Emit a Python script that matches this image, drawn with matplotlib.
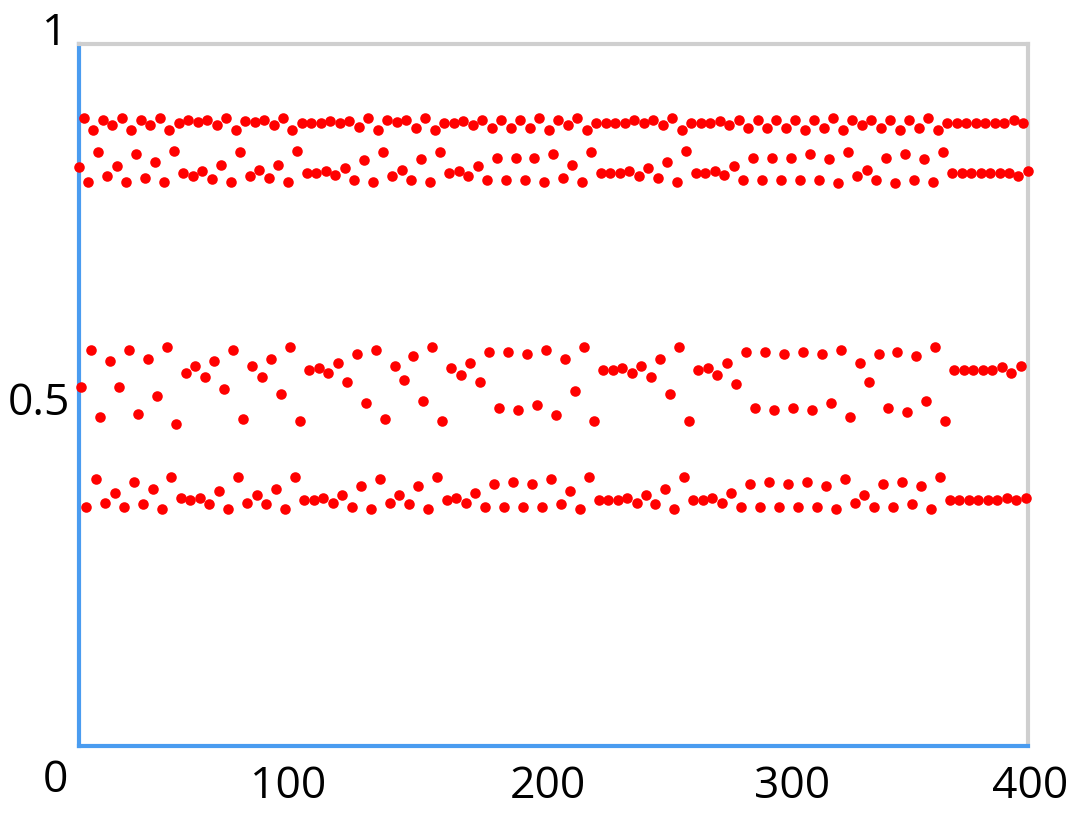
import numpy as np
import matplotlib
matplotlib.use("Agg")
import matplotlib.pyplot as plt
from matplotlib.transforms import offset_copy

# iterates, one list per band (every 4th step lands in the same band)
# band near 0.82 -> steps 0, 4, 8, ... 400
band_upper = [0.825, 0.804, 0.846, 0.812, 0.826, 0.804, 0.843, 0.809, 0.832, 0.804,
              0.848, 0.816, 0.812, 0.819, 0.808, 0.828, 0.804, 0.846, 0.812, 0.821,
              0.809, 0.828, 0.804, 0.848, 0.816, 0.816, 0.819, 0.813, 0.823, 0.806,
              0.835, 0.804, 0.846, 0.812,
              0.821, 0.806, 0.836, 0.804, 0.846, 0.816, 0.819, 0.812, 0.826, 0.806,
              0.838, 0.806, 0.838, 0.806, 0.838, 0.804, 0.843, 0.809, 0.828, 0.804,
              0.846, 0.816, 0.816, 0.816, 0.819, 0.812, 0.823, 0.809, 0.832, 0.804,
              0.848, 0.816, 0.816, 0.819, 0.813,
              0.826, 0.806, 0.838, 0.806, 0.838, 0.806, 0.838, 0.806, 0.843, 0.806,
              0.836, 0.802, 0.846, 0.812, 0.821, 0.806, 0.838, 0.802, 0.843, 0.806,
              0.836, 0.804, 0.846, 0.816, 0.816, 0.816, 0.816, 0.816, 0.816, 0.816,
              0.812, 0.819]

# band near 0.5 -> steps 1, 5, 9, ... 397
band_mid = [0.512, 0.564, 0.469, 0.548, 0.512, 0.564, 0.473, 0.551, 0.499, 0.568,
            0.459, 0.532, 0.542, 0.525, 0.548, 0.508, 0.564, 0.466, 0.542, 0.525,
            0.551, 0.502, 0.568, 0.463, 0.535, 0.538, 0.532, 0.545, 0.518, 0.558,
            0.489, 0.564, 0.466, 0.542,
            0.522, 0.555, 0.492, 0.568, 0.463, 0.538, 0.529, 0.545, 0.518, 0.561,
            0.482, 0.561, 0.479, 0.558, 0.486, 0.564, 0.472, 0.551, 0.505, 0.568,
            0.463, 0.535, 0.535, 0.538, 0.532, 0.542, 0.525, 0.551, 0.502, 0.568,
            0.463, 0.535, 0.538, 0.529,
            0.545, 0.516, 0.561, 0.482, 0.561, 0.479, 0.558, 0.482, 0.561, 0.479,
            0.558, 0.489, 0.564, 0.469, 0.545, 0.518, 0.558, 0.482, 0.561, 0.476,
            0.555, 0.492, 0.568, 0.463, 0.535, 0.535, 0.535, 0.535, 0.535, 0.540,
            0.531, 0.542]

# band near 0.89 -> steps 2, 6, 10, ... 398
band_top = [0.895, 0.878, 0.892, 0.885, 0.895, 0.878, 0.892, 0.885, 0.895, 0.878,
            0.888, 0.892, 0.889, 0.892, 0.885, 0.895, 0.878, 0.891, 0.889, 0.892,
            0.885, 0.895, 0.878, 0.888, 0.888, 0.888, 0.891, 0.888, 0.891, 0.882,
            0.895, 0.878, 0.892, 0.889,
            0.892, 0.881, 0.895, 0.878, 0.888, 0.888, 0.891, 0.885, 0.892, 0.881,
            0.892, 0.881, 0.892, 0.881, 0.895, 0.878, 0.892, 0.885, 0.895, 0.878,
            0.888, 0.888, 0.888, 0.888, 0.892, 0.888, 0.892, 0.885, 0.895, 0.878,
            0.888, 0.888, 0.888, 0.891,
            0.885, 0.892, 0.881, 0.892, 0.881, 0.892, 0.881, 0.892, 0.878, 0.892,
            0.881, 0.895, 0.878, 0.892, 0.885, 0.892, 0.881, 0.892, 0.878, 0.892,
            0.881, 0.895, 0.878, 0.888, 0.888, 0.888, 0.888, 0.888, 0.888, 0.888,
            0.892, 0.888]

# band near 0.36 -> steps 3, 7, 11, ... 399
band_low = [0.341, 0.380, 0.346, 0.360, 0.340, 0.376, 0.344, 0.366, 0.337, 0.383,
            0.353, 0.351, 0.353, 0.344, 0.363, 0.337, 0.383, 0.346, 0.357, 0.344,
            0.366, 0.337, 0.383, 0.351, 0.351, 0.353, 0.346, 0.357, 0.340, 0.370,
            0.337, 0.380, 0.346, 0.357,
            0.344, 0.370, 0.337, 0.383, 0.351, 0.353, 0.346, 0.360, 0.340, 0.373,
            0.340, 0.376, 0.340, 0.373, 0.340, 0.380, 0.344, 0.363, 0.337, 0.383,
            0.351, 0.351, 0.351, 0.353, 0.346, 0.357, 0.344, 0.366, 0.337, 0.383,
            0.351, 0.351, 0.353, 0.346,
            0.360, 0.340, 0.373, 0.340, 0.376, 0.340, 0.373, 0.340, 0.376, 0.340,
            0.370, 0.337, 0.380, 0.346, 0.357, 0.340, 0.373, 0.340, 0.376, 0.344,
            0.370, 0.337, 0.383, 0.351, 0.351, 0.351, 0.351, 0.351, 0.351, 0.353,
            0.351, 0.353]

x_ticks = [100, 200, 300, 400]
x_tick_labels = ["100", "200", "300", "400"]
y_ticks = [0.5, 1]
y_tick_labels = ["0.5", "1"]

# put the four bands back in step order
steps = np.arange(401)
values = np.empty(401)
values[0::4] = band_upper
values[1::4] = band_mid
values[2::4] = band_top
values[3::4] = band_low

fig = plt.figure(figsize=(10.83, 8.15), dpi=100)
ax = fig.add_axes([0.0729, 0.0847, 0.8763, 0.8613])

ax.plot(steps, values, "o", color="#ff0000", ms=7.6, mec="none", clip_on=False, zorder=3)

ax.set_xlim(0, 400)
ax.set_ylim(0, 1)
ax.set_xticks([])
ax.set_yticks([])

for side in ["left", "bottom"]:
    ax.spines[side].set_color("#4a9cf0")
    ax.spines[side].set_linewidth(3)
for side in ["top", "right"]:
    ax.spines[side].set_color("#cfcfcf")
    ax.spines[side].set_linewidth(3)

lab = dict(family="Open Sans", size=32, color="black")

# x labels, slightly nudged like the original
x_nudge = [-28, -6, 1, 2]
for v, t, dx in zip(x_ticks, x_tick_labels, x_nudge):
    tr = offset_copy(ax.get_xaxis_transform(), fig, x=dx, y=-52, units="dots")
    ax.text(v, 0, t, transform=tr, ha="center", va="baseline", **lab)

# y labels
tr = offset_copy(ax.get_yaxis_transform(), fig, x=-9, y=-20, units="dots")
ax.text(0, y_ticks[0], y_tick_labels[0], transform=tr, ha="right", va="baseline", **lab)
tr = offset_copy(ax.get_yaxis_transform(), fig, x=-24, y=-1, units="dots")
ax.text(0, y_ticks[1], y_tick_labels[1], transform=tr, ha="center", va="baseline", **lab)

# shared origin label
tr = offset_copy(ax.transAxes, fig, x=-24, y=-46, units="dots")
ax.text(0, 0, "0", transform=tr, ha="center", va="baseline", **lab)

fig.savefig("out.png", dpi=100)
